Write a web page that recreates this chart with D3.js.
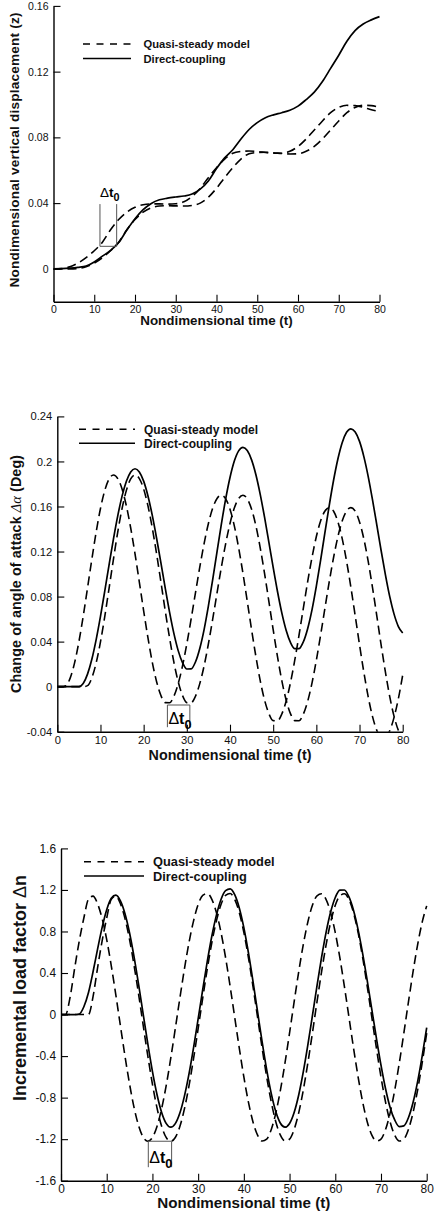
<!DOCTYPE html>
<html>
<head>
<meta charset="utf-8">
<script src="https://cdn.jsdelivr.net/npm/d3@7"></script>
<style>
  html, body { margin: 0; padding: 0; background: #fff; }
  svg { display: block; }
</style>
</head>
<body>
<svg id="chart" width="434" height="1216"></svg>
<script>
// ---------- data ----------
const timeTicks = [0, 10, 20, 30, 40, 50, 60, 70, 80];

// vertical displacement z, sampled every 2 time units
const timeZ = d3.range(0, 81, 2);
const zDirect = [0, 0.0001, 0.0004, 0.0009, 0.0017, 0.0042, 0.0077, 0.0112, 0.0160, 0.0236,
  0.0305, 0.0360, 0.0398, 0.0420, 0.0430, 0.0437, 0.0443, 0.0455, 0.0485, 0.0535,
  0.0610, 0.0675, 0.0725, 0.0790, 0.0848, 0.0890, 0.0920, 0.0937, 0.0950, 0.0965,
  0.0990, 0.1030, 0.1075, 0.1140, 0.1220, 0.1300, 0.1385, 0.1450, 0.1490, 0.1515, 0.1535];
const zQuasi = [0, 0.0002, 0.0012, 0.0035, 0.0068, 0.0110, 0.0162, 0.0238, 0.0300, 0.0345,
  0.0375, 0.0390, 0.0395, 0.0395, 0.0394, 0.0396, 0.0408, 0.0440, 0.0490, 0.0555,
  0.0615, 0.0668, 0.0703, 0.0714, 0.0717, 0.0714, 0.0708, 0.0703, 0.0703, 0.0715,
  0.0745, 0.0790, 0.0845, 0.0900, 0.0950, 0.0982, 0.0995, 0.0993, 0.0983, 0.0968, 0.0958];
const zQuasiLagged = [0, 0, 0, 0.0002, 0.0012, 0.0035, 0.0068, 0.0110, 0.0162, 0.0238,
  0.0300, 0.0345, 0.0372, 0.0382, 0.0384, 0.0383, 0.0382, 0.0386, 0.0400, 0.0436,
  0.0490, 0.0555, 0.0615, 0.0668, 0.0700, 0.0708, 0.0709, 0.0706, 0.0702, 0.0699,
  0.0700, 0.0715, 0.0745, 0.0790, 0.0845, 0.0900, 0.0950, 0.0982, 0.0995, 0.0993, 0.0983];
const zTicks = [0, 0.04, 0.08, 0.12, 0.16];

// change of angle of attack, sampled every time unit
const timeAlpha = d3.range(0, 81, 1);
const alphaDirect = [0, 0, 0, 0, 0, 0,
  0.0028, 0.0111, 0.0243, 0.0418, 0.0624, 0.0851, 0.1084, 0.1311, 0.1517, 0.1692, 0.1824, 0.1907, 0.1935,
  0.1907, 0.1825, 0.1693, 0.1521, 0.1318, 0.1099, 0.0875, 0.0662, 0.0473, 0.0320, 0.0213, 0.0157,
  0.0158, 0.0219, 0.0339, 0.0507, 0.0717, 0.0952, 0.1200, 0.1443, 0.1667, 0.1857, 0.2003, 0.2094, 0.2125,
  0.2097, 0.2014, 0.1882, 0.1708, 0.1505, 0.1284, 0.1059, 0.0845, 0.0655, 0.0501, 0.0393, 0.0337,
  0.0338, 0.0399, 0.0517, 0.0684, 0.0893, 0.1126, 0.1372, 0.1613, 0.1835, 0.2024, 0.2169, 0.2259, 0.2290,
  0.2261, 0.2178, 0.2043, 0.1868, 0.1661, 0.1437, 0.1209, 0.0993, 0.0799, 0.0644, 0.0534, 0.0477];
const alphaQuasi = [0, 0,
  0.0009, 0.0078, 0.0211, 0.0398, 0.0625, 0.0876, 0.1131, 0.1373, 0.1582, 0.1743, 0.1845, 0.1880,
  0.1848, 0.1755, 0.1605, 0.1409, 0.1179, 0.0929, 0.0674, 0.0433, 0.0217, 0.0044, -0.0079, -0.0142,
  -0.0143, -0.0085, 0.0027, 0.0184, 0.0381, 0.0601, 0.0833, 0.1061, 0.1271, 0.1449, 0.1586, 0.1671, 0.1700,
  0.1668, 0.1576, 0.1428, 0.1233, 0.1006, 0.0758, 0.0506, 0.0267, 0.0053, -0.0118, -0.0239, -0.0302,
  -0.0303, -0.0243, -0.0129, 0.0034, 0.0235, 0.0461, 0.0700, 0.0934, 0.1149, 0.1333, 0.1473, 0.1560, 0.1590,
  0.1558, 0.1463, 0.1312, 0.1114, 0.0882, 0.0629, 0.0372, 0.0129, -0.0089, -0.0264, -0.0388, -0.0452,
  -0.0452, -0.0391, -0.0273, -0.0106, 0.0103];
const alphaQuasiLagged = [0, 0, 0, 0, 0, 0, 0,
  0.0009, 0.0078, 0.0211, 0.0398, 0.0625, 0.0876, 0.1131, 0.1373, 0.1582, 0.1743, 0.1845, 0.1880,
  0.1848, 0.1755, 0.1605, 0.1409, 0.1179, 0.0929, 0.0674, 0.0433, 0.0217, 0.0044, -0.0079, -0.0142,
  -0.0143, -0.0085, 0.0027, 0.0184, 0.0381, 0.0601, 0.0833, 0.1061, 0.1271, 0.1449, 0.1586, 0.1671, 0.1700,
  0.1668, 0.1576, 0.1428, 0.1233, 0.1006, 0.0758, 0.0506, 0.0267, 0.0053, -0.0118, -0.0239, -0.0302,
  -0.0303, -0.0243, -0.0129, 0.0034, 0.0235, 0.0461, 0.0700, 0.0934, 0.1149, 0.1333, 0.1473, 0.1560, 0.1590,
  0.1558, 0.1463, 0.1312, 0.1114, 0.0882, 0.0629, 0.0372, 0.0129, -0.0089, -0.0264, -0.0388, -0.0452];
const alphaTicks = [-0.04, 0, 0.04, 0.08, 0.12, 0.16, 0.2, 0.24];

// incremental load factor, sampled every time unit
const timeN = d3.range(0, 81, 1);
const nDirect = [0, 0, 0, 0,
  0.005, 0.075, 0.21, 0.41, 0.63, 0.84, 1.01, 1.12,
  1.1498, 1.0950, 0.9708, 0.7856, 0.5505, 0.2825, -0.0023, -0.2848, -0.5466, -0.7698, -0.9410, -1.0483, -1.0850,
  -1.0503, -0.9483, -0.7851, -0.5716, -0.3181, -0.0422, 0.2405, 0.5116, 0.7564, 0.9575, 1.1082, 1.1935,
  1.2107, 1.1544, 1.0269, 0.8366, 0.5951, 0.3198, 0.0272, -0.2630, -0.5319, -0.7612, -0.9370, -1.0473, -1.0850,
  -1.0490, -0.9433, -0.7743, -0.5528, -0.2928, -0.0105, 0.2773, 0.5497, 0.7935, 0.9891, 1.1275, 1.1991,
  1.1995, 1.1323, 1.0021, 0.8161, 0.5852, 0.3241, 0.0473, -0.2280, -0.4874, -0.7144, -0.8953, -1.0150, -1.0795,
  -1.0720, -0.9936, -0.8491, -0.6478, -0.4021, -0.1262];
const nQuasi = [0, 0, 0.17, 0.45, 0.71, 0.93, 1.11,
  1.1408, 1.0668, 0.9237, 0.7215, 0.4696, 0.1880, -0.1094, -0.4012, -0.6699, -0.8989, -1.0735, -1.1828, -1.2200,
  -1.1839, -1.0779, -0.9084, -0.6865, -0.4231, -0.1363, 0.1574, 0.4392, 0.6935, 0.9025, 1.0591, 1.1477,
  1.1656, 1.1095, 0.9820, 0.7914, 0.5493, 0.2708, -0.0260, -0.3228, -0.6013, -0.8434, -1.0340, -1.1615, -1.2176,
  -1.1988, -1.1065, -0.9464, -0.7284, -0.4663, -0.1770, 0.1220, 0.4113, 0.6735, 0.8914, 1.0515, 1.1438,
  1.1626, 1.1066, 0.9792, 0.7889, 0.5471, 0.2690, -0.0275, -0.3240, -0.6021, -0.8439, -1.0342, -1.1616, -1.2176,
  -1.1988, -1.1067, -0.9470, -0.7295, -0.4679, -0.1792, 0.1192, 0.4079, 0.6695, 0.8870, 1.0467];
const nQuasiLagged = [0, 0, 0, 0, 0,
  0, 0, 0.17, 0.45, 0.71, 0.93, 1.11,
  1.1408, 1.0668, 0.9237, 0.7215, 0.4696, 0.1880, -0.1094, -0.4012, -0.6699, -0.8989, -1.0735, -1.1828, -1.2200,
  -1.1839, -1.0779, -0.9084, -0.6865, -0.4231, -0.1363, 0.1574, 0.4392, 0.6935, 0.9025, 1.0591, 1.1477,
  1.1656, 1.1095, 0.9820, 0.7914, 0.5493, 0.2708, -0.0260, -0.3228, -0.6013, -0.8434, -1.0340, -1.1615, -1.2176,
  -1.1988, -1.1065, -0.9464, -0.7284, -0.4663, -0.1770, 0.1220, 0.4113, 0.6735, 0.8914, 1.0515, 1.1438,
  1.1626, 1.1066, 0.9792, 0.7889, 0.5471, 0.2690, -0.0275, -0.3240, -0.6021, -0.8439, -1.0342, -1.1616, -1.2176,
  -1.1988, -1.1067, -0.9470, -0.7295, -0.4679, -0.1792];
const nTicks = [-1.6, -1.2, -0.8, -0.4, 0, 0.4, 0.8, 1.2, 1.6];

// time-lag brackets: [t start, t end] and [value at rim, value at far end]
const lagZ = { t: [11.4, 15.5], v: [0.0394, 0.0137] };
const lagAlpha = { t: [25.5, 30.7], v: [-0.0163, -0.0360] };
const lagN = { t: [19.1, 24.2], v: [-1.22, -1.47] };

const legendLabels = ["Quasi-steady model", "Direct-coupling"];
const xTitle = "Nondimensional time (t)";

// ---------- layout ----------
const FONT = "'Liberation Sans', Arial, Helvetica, sans-serif";
const panels = [
  {
    id: "z", time: timeZ, domain: [-0.02, 0.16], yTicks: zTicks,
    series: [zQuasi, zQuasiLagged], direct: zDirect, lag: lagZ, lagShape: "cup",
    left: 53.5, right: 379.5, top: 5.9, bottom: 301.7,
    tickFont: 10.5, titleFont: 13.4, yTitleFont: 13.6, yTitleLen: 275, legendFont: 11.2,
    yTitle: [{ text: "Nondimensional vertical displacement (z)", bold: true }],
    yTitleX: 19, yTitleY: 150, xTitleY: 325,
    legend: { x0: 83, x1: 131, y: 44, dy: 14.6, tx: 143.5 },
    lagLabel: { dx: 0, dy: -7, size: 13.5, subDy: 4 }
  },
  {
    id: "alpha", time: timeAlpha, domain: [-0.04, 0.24], yTicks: alphaTicks,
    series: [alphaQuasi, alphaQuasiLagged], direct: alphaDirect, lag: lagAlpha, lagShape: "cap",
    left: 57.3, right: 402.7, top: 416.4, bottom: 731.7,
    tickFont: 11.2, titleFont: 14.3, yTitleFont: 14.3, yTitleLen: 238, legendFont: 12,
    yTitle: [{ text: "Change of angle of attack ", bold: true },
             { text: "\u0394\u03b1", bold: false, serif: true },
             { text: " (Deg)", bold: true }],
    yTitleX: 21, yTitleY: 574, xTitleY: 760,
    legend: { x0: 79, x1: 135, y: 429.3, dy: 14, tx: 144 },
    lagLabel: { dx: 1, dy: 19, size: 16, subDy: 5 }
  },
  {
    id: "n", time: timeN, domain: [-1.6, 1.6], yTicks: nTicks,
    series: [nQuasi, nQuasiLagged], direct: nDirect, lag: lagN, lagShape: "cap",
    left: 61, right: 426.7, top: 848.4, bottom: 1180.7,
    tickFont: 11.9, titleFont: 15.2, yTitleFont: 18, yTitleLen: null, legendFont: 12.8,
    yTitle: [{ text: "Incremental load factor ", bold: true },
             { text: "\u0394", bold: false },
             { text: "n", bold: true }],
    yTitleX: 26, yTitleY: 988, xTitleY: 1208,
    legend: { x0: 84, x1: 144, y: 861.7, dy: 14.3, tx: 153 },
    lagLabel: { dx: 1, dy: 22, size: 16, subDy: 5 }
  }
];

const svg = d3.select("#chart");

panels.forEach(p => {
  const x = d3.scaleLinear().domain([0, 80]).range([p.left, p.right]);
  const y = d3.scaleLinear().domain(p.domain).range([p.bottom, p.top]);
  const g = svg.append("g").attr("class", "panel-" + p.id);

  const clipId = "clip-" + p.id;
  svg.append("clipPath").attr("id", clipId)
    .append("rect")
    .attr("x", p.left).attr("y", p.top - 3)
    .attr("width", p.right - p.left + 2).attr("height", p.bottom - p.top + 3);

  // axes: left and bottom only, ticks pointing inward
  const xAxis = d3.axisBottom(x).tickValues(timeTicks).tickFormat(d => String(d))
    .tickSizeInner(-7).tickSizeOuter(0).tickPadding(4);
  const yAxis = d3.axisLeft(y).tickValues(p.yTicks).tickFormat(d => String(d))
    .tickSizeInner(-7).tickSizeOuter(0).tickPadding(5);

  const gx = g.append("g").attr("transform", `translate(0,${p.bottom})`).call(xAxis);
  const gy = g.append("g").attr("transform", `translate(${p.left},0)`).call(yAxis);
  [gx, gy].forEach(a => {
    a.attr("font-family", FONT).attr("font-size", p.tickFont);
    a.select(".domain").attr("stroke", "#000").attr("stroke-width", 1.4);
    a.selectAll(".tick line").attr("stroke", "#000").attr("stroke-width", 1.1);
    a.selectAll(".tick text").attr("fill", "#111");
  });

  // curves
  const line = d3.line()
    .x(d => x(d[0])).y(d => y(d[1]))
    .curve(d3.curveMonotoneX);
  const curves = g.append("g").attr("clip-path", `url(#${clipId})`);
  p.series.forEach(vals => {
    curves.append("path")
      .datum(p.time.map((t, i) => [t, vals[i]]))
      .attr("d", line)
      .attr("fill", "none").attr("stroke", "#000")
      .attr("stroke-width", 1.6).attr("stroke-dasharray", "9,5");
  });
  curves.append("path")
    .datum(p.time.map((t, i) => [t, p.direct[i]]))
    .attr("d", line)
    .attr("fill", "none").attr("stroke", "#000").attr("stroke-width", 1.7);

  // time-lag bracket
  const lx0 = x(p.lag.t[0]), lx1 = x(p.lag.t[1]);
  const ly0 = y(p.lag.v[0]), ly1 = y(p.lag.v[1]);
  const bracket = p.lagShape === "cup"
    ? `M${lx0},${ly0}V${ly1}H${lx1}V${ly0}`
    : `M${lx0},${ly1}V${ly0}H${lx1}V${ly1}`;
  g.append("path").attr("d", bracket)
    .attr("fill", "none").attr("stroke", "#555").attr("stroke-width", 1);

  const lagText = g.append("text")
    .attr("x", lx0 + p.lagLabel.dx)
    .attr("y", ly0 + p.lagLabel.dy)
    .attr("font-family", FONT).attr("font-size", p.lagLabel.size).attr("fill", "#000");
  lagText.append("tspan").text("\u0394");
  lagText.append("tspan").attr("font-weight", "bold").text("t");
  lagText.append("tspan").attr("font-weight", "bold").attr("dy", p.lagLabel.subDy)
    .attr("font-size", p.lagLabel.size * 0.8).text("0");

  // legend
  const L = p.legend;
  [0, 1].forEach(i => {
    const ly = L.y + i * L.dy;
    g.append("line")
      .attr("x1", L.x0).attr("x2", L.x1).attr("y1", ly).attr("y2", ly)
      .attr("stroke", "#000").attr("stroke-width", 1.5)
      .attr("stroke-dasharray", i === 0 ? "7,6.5" : null);
    g.append("text")
      .attr("x", L.tx).attr("y", ly + p.legendFont * 0.36)
      .attr("font-family", FONT).attr("font-weight", "bold")
      .attr("font-size", p.legendFont).attr("fill", "#111")
      .text(legendLabels[i]);
  });

  // axis titles
  g.append("text")
    .attr("x", (p.left + p.right) / 2).attr("y", p.xTitleY)
    .attr("text-anchor", "middle")
    .attr("font-family", FONT).attr("font-weight", "bold")
    .attr("font-size", p.titleFont).attr("fill", "#111")
    .text(xTitle);

  const yt = g.append("text")
    .attr("transform", `translate(${p.yTitleX},${p.yTitleY}) rotate(-90)`)
    .attr("text-anchor", "middle")
    .attr("font-family", FONT).attr("font-size", p.yTitleFont).attr("fill", "#111");
  if (p.yTitleLen) yt.attr("textLength", p.yTitleLen).attr("lengthAdjust", "spacing");
  p.yTitle.forEach(part => {
    yt.append("tspan")
      .attr("font-weight", part.bold ? "bold" : "normal")
      .attr("font-family", part.serif ? "'Liberation Serif', 'DejaVu Serif', serif" : FONT)
      .attr("font-style", part.serif ? "italic" : null)
      .text(part.text);
  });
});
</script>
</body>
</html>
